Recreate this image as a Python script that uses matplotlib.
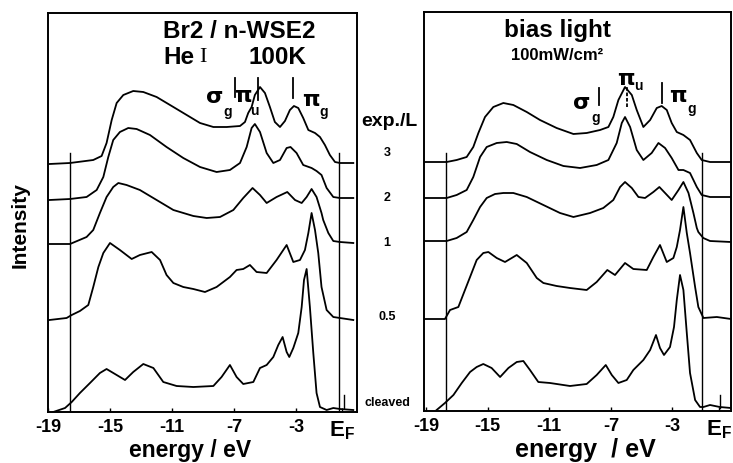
import matplotlib
matplotlib.use("Agg")
import matplotlib.pyplot as plt

plt.rcParams["font.family"] = ["Liberation Sans", "DejaVu Sans"]
plt.rcParams["font.weight"] = "bold"
plt.rcParams["mathtext.fontset"] = "custom"
plt.rcParams["mathtext.bf"] = "Liberation Sans:bold"
plt.rcParams["mathtext.rm"] = "Liberation Sans:bold"

# ---- left panel: Br2 / n-WSe2, He I, 100 K ----
L3_E = [-18.91, -17.58, -16.08, -15.54, -15.22, -14.89, -14.57, -14.14, -13.50, -12.85, -11.99, -10.91,
        -10.05, -9.19, -8.33, -7.47, -6.61, -6.29, -6.08, -5.86, -5.65, -5.32, -5.00, -4.68, -4.36, -4.03,
        -3.71, -3.39, -3.13, -2.85, -2.53, -2.20, -1.77, -1.45, -1.13, -0.81, -0.48, -0.16, 0.70]
L3_I = [248, 249, 252, 256, 269, 292, 309, 317, 321, 320, 315, 305,
        297, 289, 285, 285, 286, 290, 299, 305, 317, 325, 319, 305, 290, 285,
        291, 302, 306, 304, 294, 282, 279, 275, 267, 257, 250, 249, 249]

L2_E = [-18.91, -17.58, -16.51, -15.86, -15.43, -15.11, -14.79, -14.36, -13.82, -13.28, -12.42, -11.35,
        -10.27, -9.19, -8.12, -7.26, -6.61, -6.18, -5.86, -5.65, -5.32, -4.89, -4.46, -4.03, -3.60, -3.35,
        -2.96, -2.53, -1.99, -1.67, -1.35, -1.02, -0.59, -0.16, 0.70]
L2_I = [212, 213, 215, 222, 235, 255, 272, 280, 284, 283, 277, 265,
        254, 245, 240, 242, 249, 265, 284, 288, 280, 259, 249, 252, 264, 265,
        259, 247, 244, 241, 237, 224, 215, 214, 214]

L1_E = [-18.91, -17.58, -16.51, -16.08, -15.65, -15.22, -14.79, -14.46, -13.93, -13.07, -11.99, -10.91,
        -9.62, -8.76, -7.90, -7.04, -6.40, -5.80, -5.32, -4.89, -4.25, -3.56, -3.06, -2.63, -2.31, -1.99,
        -1.67, -1.35, -1.24, -0.91, -0.59, -0.16, 0.70]
L1_I = [168, 168, 175, 182, 199, 215, 225, 229, 227, 222, 212, 202,
        196, 194, 195, 202, 214, 224, 217, 209, 215, 220, 212, 209, 215, 223,
        215, 199, 192, 179, 171, 170, 169]

L05_E = [-18.91, -17.80, -17.47, -16.94, -16.40, -16.08, -15.75, -15.43, -15.00, -14.36, -13.60, -13.07,
         -12.31, -11.77, -11.35, -10.91, -10.27, -9.62, -8.87, -8.12, -7.26, -6.83, -6.40, -5.97, -5.54,
         -4.89, -4.25, -3.60, -3.17, -2.74, -2.42, -2.20, -1.99, -1.77, -1.56, -1.35, -1.02, -0.59, -0.16, 0.70]
L05_I = [92, 94, 97, 101, 107, 125, 145, 159, 169, 162, 153, 157,
         160, 152, 137, 129, 125, 123, 120, 125, 135, 142, 143, 147, 140,
         139, 152, 167, 150, 152, 162, 179, 199, 182, 159, 125, 102, 95, 94, 92]

L0_E = [-18.66, -17.90, -17.47, -16.94, -16.29, -15.65, -15.22, -14.57, -14.03, -13.50, -12.85, -12.20,
        -11.56, -10.70, -9.62, -8.33, -7.80, -7.26, -6.83, -6.40, -5.75, -5.32, -4.89, -4.46, -4.14, -3.86,
        -3.60, -3.43, -3.17, -2.85, -2.63, -2.48, -2.31, -2.10, -1.88, -1.67, -1.45, -1.02, -0.59, -0.16, 0.70]
L0_I = [0, 4, 10, 19, 29, 39, 43, 37, 32, 40, 48, 44,
        30, 26, 25, 26, 35, 47, 35, 28, 30, 44, 47, 55, 67, 75,
        60, 55, 64, 79, 105, 132, 143, 105, 59, 19, 5, 2, 4, 3, 2]

# ---- right panel: with bias light 100 mW/cm2 ----
R3_E = [-19.10, -17.66, -17.01, -16.36, -15.93, -15.60, -15.17, -14.63, -13.98, -13.33, -12.46, -11.60,
        -10.52, -9.43, -8.57, -7.70, -7.16, -6.84, -6.51, -6.08, -5.64, -5.32, -4.89, -4.45, -4.02, -3.70,
        -3.37, -3.05, -2.72, -2.29, -1.86, -1.42, -1.10, -0.56, 0.80]
R3_I = [250, 250, 252, 255, 265, 279, 295, 305, 309, 307, 300, 292,
        284, 278, 279, 282, 285, 295, 312, 325, 317, 302, 285, 292, 304, 306,
        302, 289, 280, 277, 272, 259, 252, 250, 250]

R2_E = [-19.10, -17.66, -17.01, -16.36, -15.93, -15.49, -15.06, -14.41, -13.76, -13.11, -12.25, -11.16,
        -10.08, -9.00, -7.92, -7.16, -6.62, -6.29, -6.08, -5.75, -5.32, -4.89, -4.35, -3.91, -3.48, -3.05,
        -2.61, -2.29, -1.86, -1.42, -1.10, -0.56, 0.80]
R2_I = [214, 214, 217, 222, 235, 255, 265, 269, 270, 268, 260, 252,
        246, 244, 247, 252, 269, 289, 295, 285, 262, 252, 259, 269, 264, 254,
        242, 242, 239, 225, 217, 215, 215]

R1_E = [-19.10, -17.66, -17.01, -16.36, -15.93, -15.49, -15.06, -14.52, -13.98, -13.33, -12.46, -11.38,
        -10.30, -9.43, -8.35, -7.49, -6.84, -6.40, -6.08, -5.64, -5.21, -4.78, -4.24, -3.85, -3.48, -3.05,
        -2.61, -2.29, -1.96, -1.64, -1.42, -1.32, -1.00, -0.56, 0.80]
R1_I = [171, 171, 174, 180, 192, 205, 214, 218, 219, 219, 215, 207,
        199, 195, 199, 204, 212, 225, 230, 224, 215, 214, 220, 225, 219, 212,
        222, 230, 219, 199, 184, 180, 174, 171, 170]

R05_E = [-19.10, -17.77, -17.44, -16.90, -16.47, -16.14, -15.71, -15.28, -14.95, -14.41, -13.87, -13.11,
         -12.46, -11.81, -11.38, -10.52, -9.65, -8.57, -7.92, -7.23, -6.73, -6.08, -5.54, -4.67, -4.24,
         -3.81, -3.37, -2.94, -2.72, -2.51, -2.29, -2.07, -1.86, -1.53, -1.32, -0.99, -0.12, 0.80]
R05_I = [93, 93, 102, 105, 122, 135, 152, 159, 160, 154, 150, 157,
         149, 134, 129, 126, 124, 122, 130, 142, 137, 149, 143, 142, 155,
         167, 150, 154, 165, 182, 205, 179, 159, 125, 105, 94, 95, 93]

R0_E = [-18.31, -17.77, -17.22, -16.68, -16.14, -15.71, -15.28, -14.74, -14.19, -13.65, -13.11, -12.68,
        -12.25, -11.71, -10.95, -9.65, -8.57, -7.92, -7.33, -6.94, -6.51, -5.97, -5.54, -4.89, -4.45, -4.07,
        -3.81, -3.55, -3.16, -2.90, -2.72, -2.51, -2.29, -2.07, -1.86, -1.53, -1.21, -0.99, -0.56, 0.07, 0.80]
R0_I = [2, 9, 17, 29, 40, 45, 48, 44, 35, 44, 50, 51,
        42, 30, 29, 26, 28, 37, 47, 37, 29, 32, 42, 52, 62, 77,
        64, 57, 65, 85, 112, 137, 122, 79, 39, 12, 5, 5, 7, 5, 4]

# exposure labels (L) between the panels
exposures = ["3", "2", "1", "0.5", "cleaved"]

# reference lines and orbital markers (energy in eV)
L_vlines = [-17.6, -0.2]
R_vlines = [-17.7, -1.1]
L_marks = [-6.94, -5.45, -3.19]
L_marks_lo = [315, 312, 314]
L_marks_hi = [334, 334, 334]
R_marks = [-7.77, -5.95, -3.68]
R_marks_lo = [307, 305, 309]
R_marks_hi = [324, 325, 329]

ticks = [-19, -15, -11, -7, -3, 0]
tick_labels = ["-19", "-15", "-11", "-7", "-3", r"$\mathbf{E}_\mathbf{F}$"]

W, H = 733, 463
fig = plt.figure(figsize=(W / 100, H / 100), dpi=100)


def box(x0, y0, x1, y1):
    return [x0 / W, 1 - y1 / H, (x1 - x0) / W, (y1 - y0) / H]


def ftext(x, y, s, **kw):
    kw.setdefault("ha", "center")
    kw.setdefault("va", "center")
    fig.text(x / W, 1 - y / H, s, **kw)


axL = fig.add_axes(box(48, 13, 357, 412))
axR = fig.add_axes(box(424, 12, 731, 411))

panels = [
    (axL, [(L3_E, L3_I), (L2_E, L2_I), (L1_E, L1_I), (L05_E, L05_I), (L0_E, L0_I)],
     L_vlines, (L_marks, L_marks_lo, L_marks_hi), (-19, 0.94), (0, 399)),
    (axR, [(R3_E, R3_I), (R2_E, R2_I), (R1_E, R1_I), (R05_E, R05_I), (R0_E, R0_I)],
     R_vlines, (R_marks, R_marks_lo, R_marks_hi), (-19.13, 0.8), (1, 400)),
]

for ax, curves, vl, (marks, lo, hi), xl, yl in panels:
    for e, i in curves:
        ax.plot(e, i, color="black", lw=1.3, solid_joinstyle="round")
    for v in vl:
        ax.plot([v, v], [yl[0], 259], color="black", lw=1.0)
    for k in range(len(marks)):
        ls = (0, (2, 1)) if (ax is axR and k == 1) else "-"
        ax.plot([marks[k], marks[k]], [lo[k], hi[k]], color="black", lw=1.3, ls=ls)
    ax.plot([0.07, 0.07], [4, 17], color="black", lw=1.0)
    ax.set_xlim(*xl)
    ax.set_ylim(*yl)
    ax.set_yticks([])
    ax.set_xticks(ticks)
    ax.set_xticklabels(tick_labels, fontsize=13, fontweight="bold")
    ax.get_xticklabels()[-1].set_fontsize(16)
    ax.tick_params(axis="x", direction="in", length=3, width=1, pad=5)
    for sp in ax.spines.values():
        sp.set_linewidth(1.4)

# titles inside panels
ftext(163, 32, "Br2 / n-WSE2", fontsize=17.5, ha="left")
ftext(163, 57, "He", fontsize=17.5, ha="left")
ftext(203, 57, "I", fontsize=16, family="Liberation Serif", fontweight="normal")
ftext(248, 57, "100K", fontsize=17.5, ha="left")
ftext(557, 30, "bias light", fontsize=17.5)
ftext(557, 56, "100mW/cm²", fontsize=12)

# orbital labels
greek = dict(fontsize=16, family=["DejaVu Sans"], fontweight="bold")
sub = dict(fontsize=10)
ftext(215, 97, "σ", **greek)
ftext(228, 112, "g", **sub)
ftext(243, 96, "π", **greek)
ftext(254, 111, "u", **sub)
ftext(311, 100, "π", **greek)
ftext(324, 112, "g", **sub)
ftext(582, 103, "σ", **greek)
ftext(596, 118, "g", **sub)
ftext(626, 79, "π", **greek)
ftext(638, 86, "u", **sub)
ftext(678, 96, "π", **greek)
ftext(692, 109, "g", **sub)

# exposure column
ftext(389, 122, "exp./L", fontsize=14)
for lab, y in zip(exposures, [153, 198, 243, 317, 403]):
    ftext(387, y, lab, fontsize=9)

ftext(20, 225, "Intensity", fontsize=15, rotation=90)
ftext(190, 450, "energy / eV", fontsize=16.5)
ftext(585, 450, "energy  / eV", fontsize=18)

fig.savefig("out.png", dpi=100)
